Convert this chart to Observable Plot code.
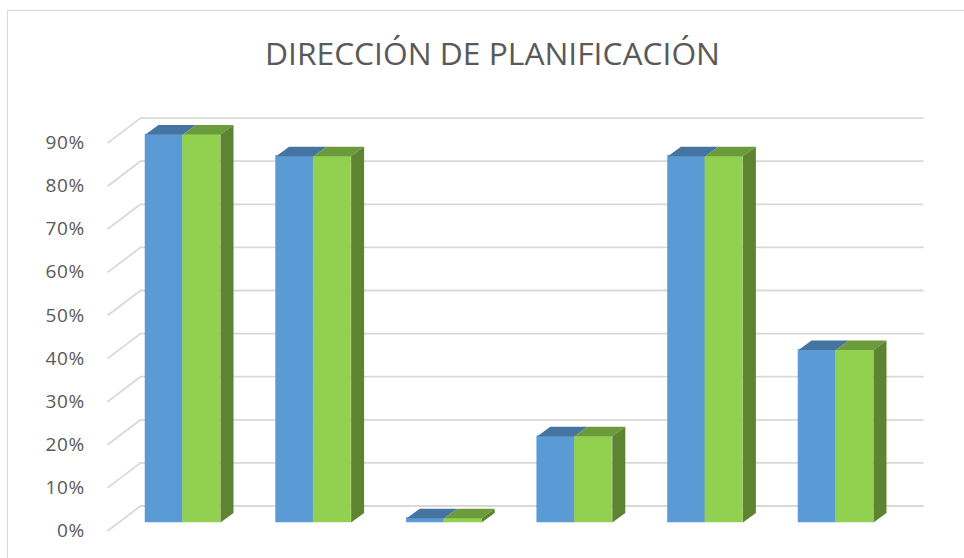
<!DOCTYPE html>
<html>
<head>
<meta charset="utf-8">
<script src="https://cdn.jsdelivr.net/npm/d3@7"></script>
<script src="https://cdn.jsdelivr.net/npm/@observablehq/plot@0.6"></script>
<style>
  html, body { margin: 0; padding: 0; background: #fff; overflow: hidden; }
  #wrap { position: relative; width: 964px; height: 558px; overflow: hidden; }
  #frame { position: absolute; left: 7px; top: 10px; width: 980px; height: 580px;
           border: 1.5px solid #d9d9d9; box-sizing: border-box; }
  #title { position: absolute; left: 0; top: 0; }
  #chart { position: absolute; left: 0; top: 0; }
  #chart svg text { letter-spacing: 0.6px; }
</style>
</head>
<body>
<div id="wrap">
  <div id="frame"></div>
  <svg id="title" width="964" height="90">
    <text x="492.5" y="64.5" text-anchor="middle" font-family="'Open Sans', sans-serif"
          font-weight="400" font-size="31.5" fill="#595959" textLength="455"
          lengthAdjust="spacingAndGlyphs">DIRECCIÓN DE PLANIFICACIÓN</text>
  </svg>
  <div id="chart"></div>
</div>
<script>
// ---- data ----
const categories = ["A", "B", "C", "D", "E", "F"];
const seriesNames = ["Serie 1", "Serie 2"];
const serie1 = [0.90, 0.85, 0.01, 0.20, 0.85, 0.40];
const serie2 = [0.90, 0.85, 0.01, 0.20, 0.85, 0.40];
const yTicks = [0, 0.1, 0.2, 0.3, 0.4, 0.5, 0.6, 0.7, 0.8, 0.9];

// ---- layout / 3D projection ----
const W = 964, H = 558;
const mL = 117.2, mR = 63.2, mT = 91, mB = 36;
const X0 = -0.5, X1 = categories.length - 0.5;
const kx = (X1 - X0) / (W - mL - mR);   // data units per px (x)
const ky = 1 / (H - mT - mB);            // data units per px (y)
const HALF = 37.5 * kx;                  // width of one series column
const BACK = {dx: 13, dy: -9.5};         // depth of column
const WALL = {dx: 22.8, dy: -16.5};      // back wall plane
const FRONT = {dx: -10.2, dy: 8.5};      // front (axis) plane

const colors = {
  front: ["#5b9bd5", "#92d050"],
  top: ["#4674a1", "#6c9b3c"],
  side: ["#3f6a93", "#5c8431"]
};

const values = [serie1, serie2];
const bars = [];
categories.forEach((c, i) => {
  values.forEach((vals, s) => {
    const xl = i - HALF + s * HALF;
    bars.push({cat: c, series: seriesNames[s], s, v: vals[i], xl, xr: xl + HALF, id: c + s});
  });
});

const bdx = BACK.dx * kx, bdy = -BACK.dy * ky;
const topPts = [], sidePts = [];
for (const b of bars) {
  topPts.push(
    {id: b.id, s: b.s, x: b.xl, y: b.v},
    {id: b.id, s: b.s, x: b.xr, y: b.v},
    {id: b.id, s: b.s, x: b.xr + bdx, y: b.v + bdy},
    {id: b.id, s: b.s, x: b.xl + bdx, y: b.v + bdy}
  );
  if (b.s === 1) {
    sidePts.push(
      {id: b.id, x: b.xr, y: 0},
      {id: b.id, x: b.xr + bdx, y: bdy},
      {id: b.id, x: b.xr + bdx, y: b.v + bdy},
      {id: b.id, x: b.xr, y: b.v}
    );
  }
}

const chart = Plot.plot({
  width: W, height: H,
  marginLeft: mL, marginRight: mR, marginTop: mT, marginBottom: mB,
  x: {type: "linear", domain: [X0, X1], axis: null},
  y: {type: "linear", domain: [0, 1], axis: null},
  style: {fontFamily: "'Open Sans', sans-serif", background: "transparent"},
  marks: [
    // side wall diagonals
    Plot.link(yTicks, {
      x1: () => X0 + FRONT.dx * kx, y1: d => d - FRONT.dy * ky,
      x2: () => X0 + WALL.dx * kx, y2: d => d - WALL.dy * ky,
      stroke: "#d9d9d9", strokeWidth: 1.8
    }),
    // back wall gridlines
    Plot.ruleY(yTicks, {dx: WALL.dx, dy: WALL.dy, stroke: "#d9d9d9", strokeWidth: 1.8}),
    // y tick labels at the front plane
    Plot.text(yTicks, {
      x: () => X0, y: d => d, dx: -33, dy: FRONT.dy,
      text: d => d3.format(".0%")(d), textAnchor: "end",
      fontSize: 19, fill: "#595959"
    }),
    // front faces
    Plot.rect(bars, {
      x1: "xl", x2: "xr", y1: () => 0, y2: "v",
      fill: d => colors.front[d.s], stroke: d => colors.front[d.s], strokeWidth: 0.5
    }),
    // top faces
    Plot.line(topPts.filter(p => p.s === 0), {x: "x", y: "y", z: "id", fill: colors.top[0], stroke: "none"}),
    Plot.line(topPts.filter(p => p.s === 1), {x: "x", y: "y", z: "id", fill: colors.top[1], stroke: "none"}),
    // side faces
    Plot.line(sidePts, {x: "x", y: "y", z: "id", fill: colors.side[1], stroke: "none"})
  ],
  color: {type: "identity"}
});
document.getElementById("chart").appendChild(chart);
</script>
</body>
</html>
